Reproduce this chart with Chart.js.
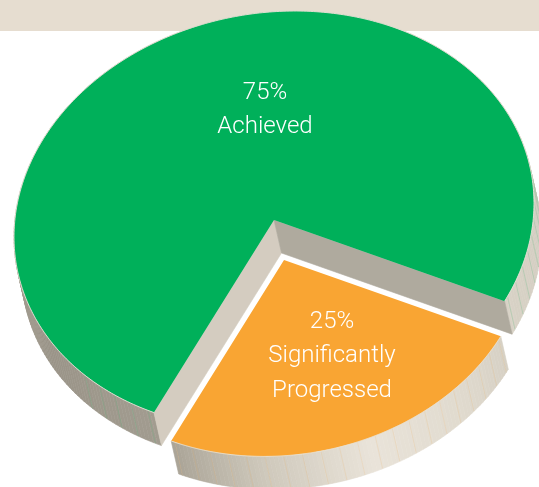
<!DOCTYPE html>
<html><head><meta charset="utf-8">
<script src="https://cdn.jsdelivr.net/npm/chart.js@4"></script>
<style>
html,body{margin:0;padding:0;background:#fff;overflow:hidden}
#band{position:absolute;left:0;top:0;width:539px;height:31px;background:#E6DDD0}
canvas{position:absolute;left:0;top:0}
</style></head><body>
<div id="band"></div>
<canvas id="c" width="539" height="487"></canvas>
<script>
const categories = ['Significantly Progressed', 'Achieved'];
const seriesValues = [25, 75];
const sliceColors = ['#F9A533', '#00B05A'];
const sliceLabels = [
  ['25%', 'Significantly', 'Progressed'],
  ['75%', 'Achieved']
];

// Tilted-disc projection of the pie (unit circle -> screen)
const VIEW = {ex: 274, ey: 220, ux: 260, uy: -16.9, vy: 208.3};
const EXTRUDE = {x: 7.5, y: 33};
const SLICE_SHIFT = {u: 0.0385, v: 0.195, r: 0.94};
const WALL_STOPS = [
  [[27,'#D6D0C4'],[45,'#E0DACE'],[70,'#E9E3D9'],[95,'#CFC9BC'],[118,'#A9A396']],
  [[117,'#A29C90'],[150,'#9A9488'],[175,'#A39D91'],[200,'#C4BEB2'],[340,'#D0CABE'],[388,'#D8D2C6']]
];
const RIB_RANGES = [[[27,118]], [[117.5,140],[345,388]]];
const RIB_COLORS = ['rgba(240,175,90,0.22)', 'rgba(90,185,125,0.32)'];
const RIB_STEP = 4.4;
const LABEL_POS = [[332, [328, 362, 397]], [265, [99, 133]]];

function hexRgb(h){return [1,3,5].map(i=>parseInt(h.substr(i,2),16));}
function shade(stops, d){
  if(d<=stops[0][0]) return stops[0][1];
  for(let i=1;i<stops.length;i++){
    if(d<=stops[i][0]){
      const t=(d-stops[i-1][0])/(stops[i][0]-stops[i-1][0]);
      const a=hexRgb(stops[i-1][1]),b=hexRgb(stops[i][1]);
      return 'rgb('+a.map((x,k)=>Math.round(x+(b[k]-x)*t)).join(',')+')';
    }
  }
  return stops[stops.length-1][1];
}

const tilted = {
  id:'tilted',
  afterDatasetsUpdate(chart){
    const arcs = chart.getDatasetMeta(0).data;
    const a = arcs[0];
    const R = a.outerRadius;
    a.x += SLICE_SHIFT.u*R;
    a.y += SLICE_SHIFT.v*R;
    a.outerRadius = R*SLICE_SHIFT.r;
  },
  beforeDatasetsDraw(chart){
    const ctx = chart.ctx;
    const arcs = chart.getDatasetMeta(0).data;
    const g = arcs[1], cx = g.x, cy = g.y, R = g.outerRadius;
    const ma = VIEW.ux/R, mb = VIEW.uy/R, md = VIEW.vy/R;
    const me = VIEW.ex - ma*cx, mf = VIEW.ey - mb*cx - md*cy;
    const px = (x,y)=>[ma*x+me, mb*x+md*y+mf];
    const rim = (arc,rad)=>px(arc.x+Math.cos(rad)*arc.outerRadius, arc.y+Math.sin(rad)*arc.outerRadius);
    const quad = (p,q,fill)=>{
      ctx.beginPath();
      ctx.moveTo(p[0],p[1]);ctx.lineTo(q[0],q[1]);
      ctx.lineTo(q[0]+EXTRUDE.x,q[1]+EXTRUDE.y);ctx.lineTo(p[0]+EXTRUDE.x,p[1]+EXTRUDE.y);
      ctx.closePath();
      ctx.fillStyle=fill;ctx.strokeStyle=fill;ctx.lineWidth=0.6;ctx.fill();ctx.stroke();
    };
    const wall = (idx)=>{
      const arc=arcs[idx];
      const s=arc.startAngle,e=arc.endAngle;
      const ds=s*180/Math.PI, de=e*180/Math.PI;
      const norm = d=>{while(d<WALL_STOPS[idx][0][0]-1)d+=360;return d;};
      const n=Math.ceil(de-ds);
      for(let i=0;i<n;i++){
        const a0=s+(e-s)*i/n,a1=s+(e-s)*(i+1)/n;
        quad(rim(arc,a0),rim(arc,a1),shade(WALL_STOPS[idx],norm(ds+(de-ds)*(i+.5)/n)));
      }
      ctx.strokeStyle=RIB_COLORS[idx];ctx.lineWidth=0.8;
      RIB_RANGES[idx].forEach(r=>{
        for(let d=r[0]+1.5;d<r[1];d+=RIB_STEP){
          const p=rim(arc,(d-(norm(ds)-ds))*Math.PI/180);
          ctx.beginPath();ctx.moveTo(p[0],p[1]);ctx.lineTo(p[0]+EXTRUDE.x,p[1]+EXTRUDE.y);ctx.stroke();
        }
      });
    };
    wall(1);
    // cut faces of the big slice
    const ap=px(g.x,g.y);
    quad(ap,rim(g,g.startAngle),'#D4CCC0');
    quad(ap,rim(g,g.endAngle),'#AFAA9E');
    wall(0);
    ctx.save();
    ctx.transform(ma,mb,0,md,me,mf);
    chart.$view=[ma,mb,md,me,mf];
  },
  afterDatasetsDraw(chart){
    const ctx=chart.ctx;
    ctx.restore();
    const [ma,mb,md,me,mf]=chart.$view;
    const arcs=chart.getDatasetMeta(0).data;
    ctx.save();
    ctx.strokeStyle='rgba(232,226,214,0.9)';ctx.lineWidth=1;
    arcs.forEach(arc=>{
      ctx.beginPath();
      const n=360;
      for(let i=0;i<=n;i++){
        const t=arc.startAngle+(arc.endAngle-arc.startAngle)*i/n;
        const x=arc.x+Math.cos(t)*arc.outerRadius,y=arc.y+Math.sin(t)*arc.outerRadius;
        ctx.lineTo(ma*x+me,mb*x+md*y+mf);
      }
      ctx.stroke();
    });
    ctx.fillStyle='#fff';ctx.textAlign='center';ctx.textBaseline='alphabetic';
    ctx.font='300 24px Roboto';
    sliceLabels.forEach((lines,i)=>lines.forEach((t,j)=>{
      ctx.fillText(t,LABEL_POS[i][0],LABEL_POS[i][1][j]);
    }));
    ctx.restore();
  }
};

new Chart(document.getElementById('c'),{
  type:'pie',
  data:{labels:categories,datasets:[{data:seriesValues,backgroundColor:sliceColors,borderWidth:0,clip:false}]},
  options:{
    responsive:false,animation:false,events:[],rotation:117.5,
    layout:{padding:0},
    plugins:{legend:{display:false},tooltip:{enabled:false}}
  },
  plugins:[tilted]
});
</script>
</body></html>
